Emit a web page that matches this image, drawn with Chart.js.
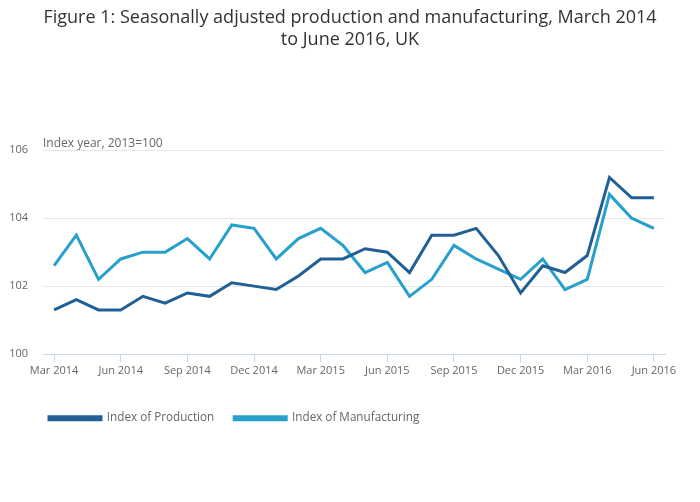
<!DOCTYPE html>
<html>
<head>
<meta charset="utf-8">
<script src="https://cdn.jsdelivr.net/npm/chart.js@4"></script>
<style>
  body { margin: 0; background: #fff; }
</style>
</head>
<body>
<canvas id="myChart" width="700" height="502"></canvas>
<script>
'use strict';

// monthly, Mar 2014 to Jun 2016
var months = [
  'Mar 2014', 'Apr 2014', 'May 2014', 'Jun 2014', 'Jul 2014', 'Aug 2014', 'Sep 2014', 'Oct 2014', 'Nov 2014', 'Dec 2014',
  'Jan 2015', 'Feb 2015', 'Mar 2015', 'Apr 2015', 'May 2015', 'Jun 2015', 'Jul 2015', 'Aug 2015', 'Sep 2015', 'Oct 2015',
  'Nov 2015', 'Dec 2015', 'Jan 2016', 'Feb 2016', 'Mar 2016', 'Apr 2016', 'May 2016', 'Jun 2016'
];

var production = [
  101.3, 101.6, 101.3, 101.3, 101.7, 101.5, 101.8, 101.7, 102.1, 102.0,
  101.9, 102.3, 102.8, 102.8, 103.1, 103.0, 102.4, 103.5, 103.5, 103.7,
  102.9, 101.8, 102.6, 102.4, 102.9, 105.2, 104.6, 104.6
];

var manufacturing = [
  102.6, 103.5, 102.2, 102.8, 103.0, 103.0, 103.4, 102.8, 103.8, 103.7,
  102.8, 103.4, 103.7, 103.2, 102.4, 102.7, 101.7, 102.2, 103.2, 102.8,
  102.5, 102.2, 102.8, 101.9, 102.2, 104.7, 104.0, 103.7
];

var yTicks = [100, 102, 104, 106];
var unitLabel = 'Index year, 2013=100';

Chart.defaults.font.family = '"Open Sans", sans-serif';
Chart.defaults.color = '#666';

// unit text above the plot, title centred on the full canvas, legend nudged
var extras = {
  id: 'extras',
  afterLayout: function (chart) {
    chart.titleBlock.left = 0;
    chart.titleBlock.right = chart.width;
    chart.titleBlock.width = chart.width;
    chart.legend.left += 29;
    chart.legend.right += 29;
    chart.legend.top += 13;
    chart.legend.bottom += 13;
  },
  afterDraw: function (chart) {
    var c = chart.ctx;
    c.save();
    c.font = '12px "Open Sans", sans-serif';
    c.fillStyle = '#666';
    c.textBaseline = 'bottom';
    c.fillText(unitLabel, chart.chartArea.left, chart.chartArea.top - 1);
    c.restore();
  }
};

var ctx = document.getElementById('myChart').getContext('2d');

var myChart = new Chart(ctx, {
  type: 'line',
  data: {
    labels: months,
    datasets: [{
      label: 'Index of Production',
      data: production,
      borderColor: '#206095',
      backgroundColor: '#206095',
      borderWidth: 3,
      pointRadius: 0,
      tension: 0
    }, {
      label: 'Index of Manufacturing',
      data: manufacturing,
      borderColor: '#27a0cc',
      backgroundColor: '#27a0cc',
      borderWidth: 3,
      pointRadius: 0,
      tension: 0
    }]
  },
  options: {
    responsive: false,
    animation: false,
    layout: { padding: { left: 0, right: 35, bottom: 81 } },
    plugins: {
      title: {
        display: true,
        text: ['Figure 1: Seasonally adjusted production and manufacturing, March 2014', 'to June 2016, UK'],
        color: '#333',
        font: { size: 18, weight: 'normal' },
        lineHeight: 1.25,
        padding: { top: 7, bottom: 100 }
      },
      legend: {
        position: 'bottom',
        align: 'start',
        labels: {
          boxWidth: 52,
          boxHeight: 3,
          color: '#666',
          font: { size: 11.7 },
          padding: 20
        }
      },
      tooltip: { enabled: false }
    },
    scales: {
      x: {
        offset: true,
        grid: {
          drawOnChartArea: false,
          drawTicks: true,
          tickLength: 8,
          color: '#ccd6eb'
        },
        border: { color: '#ccd6eb' },
        ticks: {
          autoSkip: false,
          maxRotation: 0,
          color: '#666',
          font: { size: 11 },
          padding: 2,
          callback: function (v, i) {
            return i % 3 === 0 ? months[i] : null;
          }
        }
      },
      y: {
        min: 100,
        max: 106,
        afterBuildTicks: function (axis) {
          axis.ticks = yTicks.map(function (v) { return { value: v }; });
        },
        afterFit: function (axis) {
          axis.width = 43;
        },
        grid: { color: '#e6e6e6', drawTicks: false },
        border: { display: false },
        ticks: { color: '#666', font: { size: 11 }, padding: 15 }
      }
    }
  },
  plugins: [extras]
});
</script>
</body>
</html>
